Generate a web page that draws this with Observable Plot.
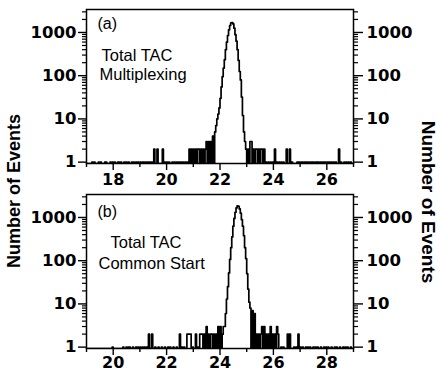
<!DOCTYPE html>
<html><head><meta charset="utf-8">
<script src="https://cdn.jsdelivr.net/npm/d3@7"></script>
<script src="https://cdn.jsdelivr.net/npm/@observablehq/plot@0.6"></script>
<style>
html,body{margin:0;padding:0;background:#fff;}
#chart{position:relative;width:441px;height:376px;overflow:hidden;background:#fff;}
#chart svg.panel{position:absolute;left:0;}
.ytitle{position:absolute;font-family:"Liberation Sans",Arial,sans-serif;font-weight:bold;white-space:nowrap;color:#000;line-height:1;}
</style></head><body><div id="chart"></div>
<script>
// ---- data ----
const binWidth = 0.04;
const yTickLabels = [1, 10, 100, 1000];
const yDomain = [0.93, 3400];

const xDomainA = [17, 27];
const xTicksA = [18, 20, 22, 24, 26];
const xDomainB = [19, 29];
const xTicksB = [20, 22, 24, 26, 28];

const textA = ["(a)", "Total TAC", "Multiplexing"];
const textB = ["(b)", "Total TAC", "Common Start"];
const axisTitle = "Number of Events";

// histogram bins [bin centre, count]; bins not listed are empty
const histA = [
  [17.22,1],[17.30,1],[17.46,1],[17.54,1],[17.70,1],[17.74,1],[17.90,1],[17.98,1],[18.06,1],[18.18,1],
  [18.22,1],[18.30,1],[18.42,1],[18.50,1],[18.58,1],[18.70,1],[18.78,1],[18.86,1],[18.94,1],[19.02,1],
  [19.10,1],[19.14,1],[19.22,1],[19.30,1],[19.34,1],[19.42,1],[19.46,1],
  [19.54,2],[19.66,2],[19.86,2],
  [19.94,1],[20.02,1],[20.10,1],[20.22,1],[20.30,1],[20.38,1],[20.46,1],[20.54,1],[20.62,1],[20.70,1],[20.78,1],
  [20.86,2],[20.94,2],[21.02,2],[21.10,2],[21.18,2],[21.22,2],[21.30,2],[21.38,2],[21.46,2],
  [21.50,3],[21.58,3],[21.66,3],[21.74,4],[21.82,5],
  [21.86,7],[21.90,10],[21.94,13],[21.98,18],[22.02,30],[22.06,55],[22.10,95],[22.14,150],[22.18,235],
  [22.22,400],[22.26,600],[22.30,850],[22.34,1150],[22.38,1450],[22.42,1660],[22.46,1700],[22.50,1580],
  [22.54,1260],[22.58,890],[22.62,630],[22.66,400],[22.70,225],[22.74,125],[22.78,80],[22.82,32],
  [22.86,12],[22.90,5],[22.94,3],[22.98,2],
  [23.06,2],[23.14,3],[23.18,3],[23.26,2],[23.34,2],[23.38,2],[23.46,2],[23.54,2],[23.58,2],[23.66,2],
  [23.74,1],[23.82,1],[23.90,1],[23.98,1],[24.06,2],[24.14,1],[24.22,1],[24.30,1],[24.38,1],
  [24.50,2],[24.62,2],[24.70,1],
  [24.90,1],[24.94,1],[24.98,1],[25.06,1],[25.10,1],[25.18,1],[25.22,1],[25.26,1],[25.34,1],[25.42,1],
  [25.46,1],[25.50,1],[25.58,1],[25.62,1],[25.66,1],[25.70,1],[25.78,1],[25.86,1],[25.90,1],[25.94,1],
  [26.02,1],[26.06,1],[26.10,1],[26.18,1],[26.26,1],[26.34,1],[26.46,2],[26.54,1],[26.66,1],[26.74,1],
  [26.82,1],[26.90,1]
];

const histB = [
  [19.98,1],[20.38,1],[20.50,1],[20.58,1],[20.62,1],[20.74,1],[20.86,1],[20.94,1],[21.02,1],[21.10,1],
  [21.18,1],[21.26,1],[21.34,2],[21.46,2],[21.58,1],[21.70,1],[21.82,1],[21.94,1],[22.06,1],[22.14,1],
  [22.26,1],[22.38,1],[22.50,2],[22.58,1],[22.66,1],[22.78,2],[22.82,2],[22.86,2],[22.90,2],[22.98,1],
  [23.10,2],[23.18,1],[23.26,2],[23.30,2],[23.34,2],
  [23.42,2],[23.50,3],[23.58,2],[23.66,2],[23.70,2],[23.78,2],[23.86,2],[23.94,3],[24.02,3],[24.10,2],
  [24.14,3],
  [24.18,3],[24.22,6],[24.26,13],[24.30,25],[24.34,52],[24.38,107],[24.42,200],[24.46,355],[24.50,630],
  [24.54,950],[24.58,1320],[24.62,1660],[24.66,1860],[24.70,1820],[24.74,1580],[24.78,1260],[24.82,890],
  [24.86,630],[24.90,380],[24.94,200],[24.98,112],[25.02,50],[25.06,22],[25.10,11],[25.14,8],
  [25.22,7],[25.30,6],
  [25.38,2],[25.46,2],[25.54,2],[25.58,3],[25.66,3],[25.74,2],[25.82,2],[25.90,3],[25.98,2],[26.06,2],
  [26.14,3],[26.18,2],[26.30,1],[26.38,1],[26.54,2],[26.62,2],[26.78,1],[26.86,1],[26.94,2],
  [27.02,1],[27.10,1],[27.22,1],[27.30,1],[27.38,1],[27.50,1],[27.58,1],[27.66,1],[27.78,1],[27.90,1],
  [27.98,1],[28.06,1],[28.18,1],[28.30,1],[28.38,1],[28.50,1],[28.62,1],[28.70,1],[28.78,1],[28.90,1]
];

// ---- helpers ----
function binSeries(domain, hist) {
  const n = Math.round((domain[1] - domain[0]) / binWidth);
  const out = d3.range(n).map(i => ({x: domain[0] + (i + 0.5) * binWidth, n: 0}));
  hist.forEach(([x, c]) => {
    const i = Math.floor((x - domain[0]) / binWidth + 1e-6);
    if (i >= 0 && i < n) out[i].n = c;
  });
  return out;
}
const yMinor = [];
yTickLabels.forEach(d => { for (let k = 2; k <= 9; k++) if (k * d <= yDomain[1]) yMinor.push(k * d); });

function oddTicks(domain) {
  const t = [];
  for (let v = Math.ceil(domain[0]); v <= domain[1]; v++) if (v % 2 === 1) t.push(v);
  return t;
}

function panel(cfg) {
  const series = binSeries(cfg.xDomain, cfg.hist);
  const lbl = {frameAnchor: "top-left", textAnchor: "start", lineAnchor: "top", fontFamily: "Liberation Sans, Arial, sans-serif", fontWeight: "normal", fill: "black"};
  const svg = Plot.plot({
    width: 441, height: 190,
    marginLeft: 86, marginRight: 88, marginTop: cfg.mt, marginBottom: cfg.mb,
    x: {domain: cfg.xDomain, label: null},
    y: {type: "log", domain: yDomain, label: null},
    style: {fontFamily: "DejaVu Sans, sans-serif", fontWeight: "bold", fontSize: "16px", color: "black", background: "white", overflow: "visible"},
    marks: [
      Plot.line(series, {x: "x", y: d => d.n > 0 ? d.n : yDomain[0], curve: "step", stroke: "black", strokeWidth: 1.7, clip: true}),
      Plot.axisX({ticks: oddTicks(cfg.xDomain), tickSize: 4, tickFormat: () => "", strokeWidth: 1.4}),
      Plot.axisX({ticks: cfg.xTicks, tickSize: 7, tickPadding: cfg.xPad, tickFormat: d => String(d), fontSize: 16, strokeWidth: 1.4}),
      Plot.axisY({anchor: "left", ticks: yMinor, tickSize: 4, tickFormat: () => "", strokeWidth: 1.2}),
      Plot.axisY({anchor: "left", ticks: yTickLabels, tickSize: 8, tickPadding: 2, tickFormat: d => String(d), fontSize: 16.5, strokeWidth: 1.4}),
      Plot.axisY({anchor: "right", ticks: yMinor, tickSize: 4, tickFormat: () => "", strokeWidth: 1.2}),
      Plot.axisY({anchor: "right", ticks: yTickLabels, tickSize: 9, tickPadding: 4, tickFormat: d => String(d), fontSize: 16.5, strokeWidth: 1.4}),
      Plot.frame({stroke: "black", strokeWidth: 1.5}),
      Plot.text([cfg.text[0]], {...lbl, text: d => d, dx: 11, dy: cfg.dy[0], fontSize: 16}),
      Plot.text([cfg.text[1]], {...lbl, text: d => d, dx: cfg.dx[1], dy: cfg.dy[1], fontSize: 16.5}),
      Plot.text([cfg.text[2]], {...lbl, text: d => d, dx: cfg.dx[2], dy: cfg.dy[2], fontSize: 16.5})
    ]
  });
  svg.classList.add("panel");
  svg.style.top = cfg.top + "px";
  return svg;
}

const chart = document.getElementById("chart");
chart.appendChild(panel({xDomain: xDomainA, xTicks: xTicksA, hist: histA, text: textA, top: 0, mt: 9, mb: 27, xPad: 3, dx: [11, 15, 13], dy: [8, 40, 59]}));
chart.appendChild(panel({xDomain: xDomainB, xTicks: xTicksB, hist: histB, text: textB, top: 186, mt: 8, mb: 28, xPad: 1, dx: [11, 24, 12], dy: [11, 42, 63]}));

function title(x, y, rot, size) {
  const d = document.createElement("div");
  d.className = "ytitle";
  d.textContent = axisTitle;
  d.style.fontSize = size + "px";
  d.style.left = x + "px";
  d.style.top = y + "px";
  d.style.transform = `translate(-50%,-50%) rotate(${rot}deg)`;
  chart.appendChild(d);
}
title(14, 191, -90, 18);
title(428, 202, 90, 19);
</script></body></html>
